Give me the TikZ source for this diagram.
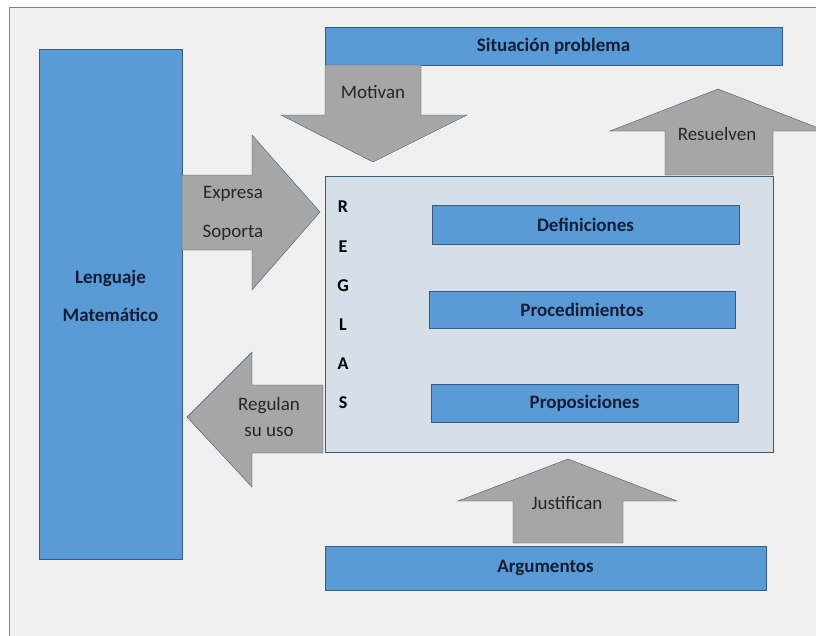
\documentclass[tikz,border=0pt]{standalone}
\usepackage{fontspec}
\setmainfont{Carlito}
\usepackage{tikz}
\definecolor{frame}{RGB}{240,240,240}
\definecolor{frameline}{RGB}{120,132,145}
\definecolor{boxblue}{RGB}{91,155,213}
\definecolor{boxline}{RGB}{55,90,130}
\definecolor{rules}{RGB}{214,222,232}
\definecolor{arrowgray}{RGB}{166,166,166}
\definecolor{navy}{RGB}{20,30,55}
\tikzset{
 bluebox/.style={draw=boxline,fill=boxblue,inner sep=0pt,font=\fontsize{19}{23}\selectfont\bfseries,text=navy},
 blockarrow/.style={draw=boxline,fill=arrowgray,line join=miter},
 arrowtext/.style={font=\fontsize{19}{23}\selectfont,text=black!85,align=center,inner sep=0pt},
}

\begin{document}
\begin{tikzpicture}[x=1pt,y=-1pt]
 \useasboundingbox (0,0) rectangle (816,635);
 \fill[white] (0,0) rectangle (816,635);
 \draw[frameline,fill=frame] (9,7) rectangle (830,650);
 % rules box
 \node[draw=boxline,fill=rules,inner sep=0pt,minimum width=448pt,minimum height=276pt] (reglas) at (549,314) {};
 \foreach \l [count=\i] in {R,E,G,L,A,S}
   \node[font=\fontsize{18}{21}\selectfont\bfseries,text=black] (l\i) at (343,{207+39.2*(\i-1)}) {\l};
 \node[bluebox,minimum width=307pt,minimum height=39pt] (def) at (585.5,224.5) {Definiciones};
 \node[bluebox,minimum width=306pt,minimum height=37pt] (proc) at (582,309.5) {Procedimientos};
 \node[bluebox,minimum width=307pt,minimum height=38pt] (prop) at (584.5,403) {Proposiciones};
 % outer boxes
 \node[bluebox,minimum width=143pt,minimum height=510pt] (lenguaje) at (110.5,304) {};
 \node[bluebox,draw=none,fill=none,align=center] (lenguajetxt) at (110.5,296) {Lenguaje\\[15pt]Matemático};
 \node[bluebox,minimum width=457pt,minimum height=38pt] (situacion) at (553.5,46) {Situación problema};
 \node[bluebox,minimum width=441pt,minimum height=44pt] (argumentos) at (545.5,568) {Argumentos};
 % block arrows
 \draw[blockarrow] (325,65)--(421,65)--(421,115)--(467,115)--(373,162)--(281,115)--(325,115)--cycle;
 \draw[blockarrow] (665,175)--(665,131)--(610,131)--(718,89)--(826,131)--(773,131)--(773,175)--cycle;
 \draw[blockarrow] (182,175)--(252,175)--(252,135)--(320,212)--(252,290)--(252,250)--(182,250)--cycle;
 \draw[blockarrow] (323,385)--(252,385)--(252,352)--(187,417)--(252,487)--(252,453)--(323,453)--cycle;
 \draw[blockarrow] (513,543)--(513,501)--(458,501)--(568,459)--(677,501)--(623,501)--(623,543)--cycle;
 \node[arrowtext] (motivan) at (373,92) {Motivan};
 \node[arrowtext] (resuelven) at (717,134) {Resuelven};
 \node[arrowtext] (expresa) at (233,213) {Expresa\\[16pt]Soporta};
 \node[arrowtext] (regulan) at (269,417) {Regulan\\[3pt]su uso};
 \node[arrowtext] (justifican) at (567,503) {Justifican};
\end{tikzpicture}
\end{document}
